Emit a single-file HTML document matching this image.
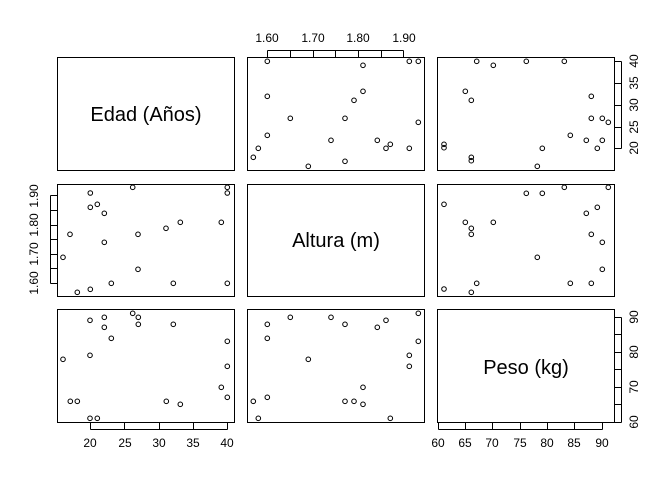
<!DOCTYPE html>
<html><head><meta charset="utf-8"><style>
html,body{margin:0;padding:0;background:#fff;}
svg{display:block;font-family:"Liberation Sans",sans-serif;}
</style></head><body>
<svg id="s" width="672" height="480" viewBox="0 0 672 480" xmlns="http://www.w3.org/2000/svg">
<g fill="none" stroke="#000" stroke-width="1">
<rect x="57.5" y="57.5" width="177" height="113"/>
<rect x="247.5" y="57.5" width="177" height="113"/>
<rect x="437.5" y="57.5" width="177" height="113"/>
<rect x="57.5" y="184.5" width="177" height="112"/>
<rect x="247.5" y="184.5" width="177" height="112"/>
<rect x="437.5" y="184.5" width="177" height="112"/>
<rect x="57.5" y="309.5" width="177" height="113"/>
<rect x="247.5" y="309.5" width="177" height="113"/>
<rect x="437.5" y="309.5" width="177" height="113"/>
<path d="M267.5 57.5V50.5M290.5 57.5V50.5M313.5 57.5V50.5M335.5 57.5V50.5M358.5 57.5V50.5M381.5 57.5V50.5M403.5 57.5V50.5M267.5 50.5H403.5"/>
<path d="M614.5 61.5H621.5M614.5 83.5H621.5M614.5 105.5H621.5M614.5 127.5H621.5M614.5 148.5H621.5M621.5 61.5V148.5"/>
<path d="M57.5 195.5H50.5M57.5 210.5H50.5M57.5 225.5H50.5M57.5 239.5H50.5M57.5 254.5H50.5M57.5 268.5H50.5M57.5 283.5H50.5M50.5 195.5V283.5"/>
<path d="M614.5 317.5H621.5M614.5 334.5H621.5M614.5 352.5H621.5M614.5 369.5H621.5M614.5 387.5H621.5M614.5 404.5H621.5M614.5 422.5H621.5M621.5 317.5V422.5"/>
<path d="M90.5 422.5V429.5M124.5 422.5V429.5M159.5 422.5V429.5M193.5 422.5V429.5M227.5 422.5V429.5M90.5 429.5H227.5"/>
<path d="M438.5 422.5V429.5M465.5 422.5V429.5M492.5 422.5V429.5M520.5 422.5V429.5M547.5 422.5V429.5M574.5 422.5V429.5M602.5 422.5V429.5M438.5 429.5H602.5"/>
</g>
<g font-size="12" fill="#000" text-anchor="middle">
<text x="267" y="42">1.60</text><text x="313" y="42">1.70</text><text x="358" y="42">1.80</text><text x="404" y="42">1.90</text>
<text x="90" y="447">20</text><text x="125" y="447">25</text><text x="159" y="447">30</text><text x="193" y="447">35</text><text x="227" y="447">40</text>
<text x="438" y="447">60</text><text x="465" y="447">65</text><text x="492" y="447">70</text><text x="520" y="447">75</text><text x="547" y="447">80</text><text x="574" y="447">85</text><text x="602" y="447">90</text>
<g transform="rotate(-90)">
<text x="-61" y="638">40</text><text x="-83" y="638">35</text><text x="-105" y="638">30</text><text x="-127" y="638">25</text><text x="-148" y="638">20</text>
<text x="-317" y="638">90</text><text x="-352" y="638">80</text><text x="-387" y="638">70</text><text x="-422" y="638">60</text>
<text x="-196" y="38">1.90</text><text x="-225" y="38">1.80</text><text x="-254" y="38">1.70</text><text x="-283" y="38">1.60</text>
</g>
</g>
<g font-size="20" text-anchor="middle" fill="#000">
<text x="146" y="121">Edad (Años)</text>
<text x="336" y="247">Altura (m)</text>
<text x="526" y="374">Peso (kg)</text>
</g>
<g id="pts" fill="none" stroke="#000" stroke-width="1"></g>
</svg>
<script>
var P=[
[40,20,[[682,124],[969,136],[1108,124],[1135,124],[682,229],[969,214],[942,241],[751,295],[915,295],[1135,307],[682,346],[873,361],[1012,361],[1038,385],[1051,373],[1108,385],[655,385],[640,412],[805,439],[915,424]]],
[420,40,[[170,64],[220,76],[319,64],[433,64],[136,154],[154,181],[514,169],[514,235],[547,235],[565,247],[451,286],[499,301],[547,301],[532,325],[367,325],[72,313],[72,323],[154,352],[154,362],[352,379],
[433,442],[565,442],[319,460],[367,460],[72,493],[532,502],[499,520],[136,547],[220,547],[154,565],[154,583],[514,583],[547,607],[352,652],[547,688],[170,730],[451,730],[514,730],[72,747],[154,757]]],
[20,175,[[338,37],[622,37],[622,54],[211,54],[211,97],[232,88],[253,115],[481,142],[604,142],[438,160],[150,178],[354,178],[253,202],[129,247],[354,283],[274,325],[460,325],[622,325],[172,352],[211,343]]],
[40,290,[[278,70],[295,82],[193,82],[150,91],[295,103],[400,103],[193,112],[214,145],[562,154],[150,196],[69,208],[562,229],[544,292],[562,322],[91,334],[112,334],[379,334],[421,343],[150,385],[172,385],
[1135,70],[751,82],[873,82],[1038,91],[682,103],[915,103],[1012,112],[682,145],[1135,154],[805,208],[1108,196],[1108,229],[969,292],[682,322],[640,334],[915,334],[942,334],[969,343],[655,385],[1051,385]]]
];
var g=document.getElementById('pts'),h='';
P.forEach(function(s){s[2].forEach(function(p){h+='<circle cx="'+(s[0]+p[0]/3).toFixed(1)+'" cy="'+(s[1]+p[1]/3).toFixed(1)+'" r="2.3"/>';});});
g.innerHTML=h;
</script>
</body></html>
